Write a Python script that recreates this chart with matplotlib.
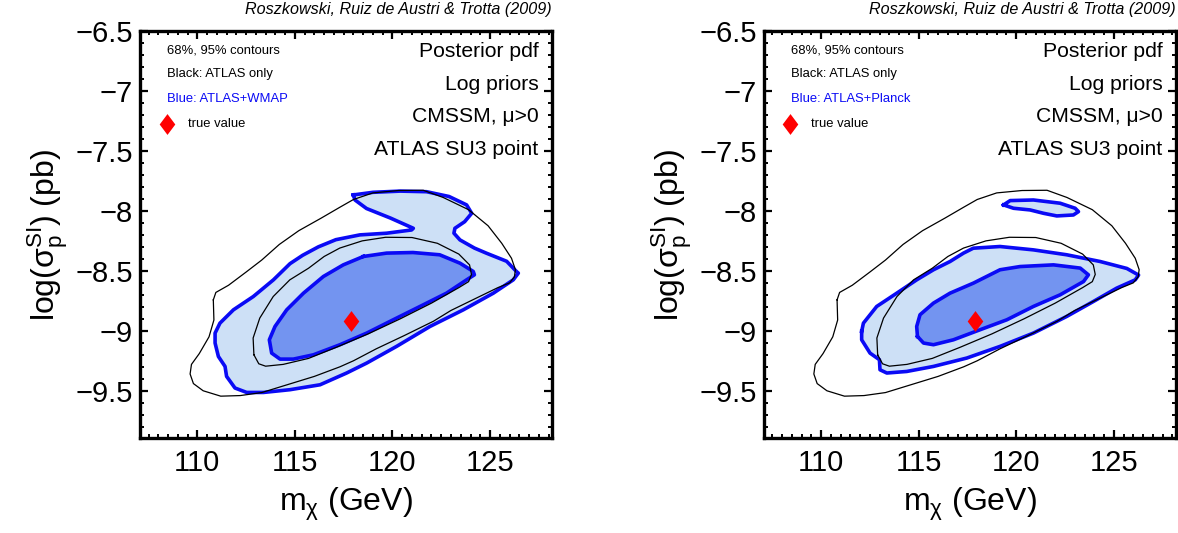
import matplotlib
matplotlib.use('Agg')
import matplotlib.pyplot as plt
from matplotlib.ticker import MultipleLocator

plt.rcParams['font.family'] = ['Liberation Sans', 'DejaVu Sans']
plt.rcParams['mathtext.fontset'] = 'custom'
plt.rcParams['mathtext.rm'] = 'Liberation Sans'
plt.rcParams['mathtext.it'] = 'Liberation Sans:italic'

# true value (ATLAS SU3 benchmark)
true_mx = 117.9
true_sigma = -8.915

# ATLAS only contours (black), same in both panels
atlas_95 = [(110.82, -8.742), (110.95, -8.68), (111.6, -8.62), (112.5, -8.51), (113.3, -8.41),
            (114.2, -8.28), (115.2, -8.165), (116.35, -8.06), (117.3, -7.97), (118.0, -7.905),
            (119.0, -7.85), (120.3, -7.83), (121.58, -7.828), (122.6, -7.888), (123.9, -7.99),
            (124.9, -8.124), (125.6, -8.27), (126.1, -8.395), (126.3, -8.49), (126.25, -8.55),
            (126.0, -8.6), (125.4, -8.64), (124.3, -8.727), (123.0, -8.83), (122.1, -8.92),
            (120.6, -9.04), (119.17, -9.15), (118.0, -9.25), (117.31, -9.3), (116.0, -9.38),
            (114.6, -9.45), (113.3, -9.515), (112.2, -9.54), (111.2, -9.545), (110.3, -9.5),
            (109.8, -9.44), (109.63, -9.36), (109.7, -9.28), (110.1, -9.19), (110.6, -9.05),
            (110.85, -8.91), (110.82, -8.742)]
atlas_68 = [(112.9, -9.2), (112.86, -9.06), (113.2, -8.894), (113.89, -8.714), (114.74, -8.575),
            (115.7, -8.478), (116.5, -8.38), (117.3, -8.31), (118.45, -8.25), (119.65, -8.22),
            (121.0, -8.222), (122.3, -8.27), (123.4, -8.36), (123.95, -8.45), (124.05, -8.53),
            (123.9, -8.59), (123.4, -8.64), (122.0, -8.769), (120.4, -8.9), (118.75, -9.026),
            (117.13, -9.137), (115.7, -9.23), (114.4, -9.28), (113.5, -9.295), (113.15, -9.275),
            (112.9, -9.2)]

# ATLAS+WMAP contours (blue, left panel)
wmap_95 = [(117.99, -7.867), (119.0, -7.845), (120.4, -7.835), (121.75, -7.84), (122.9, -7.88),
           (123.8, -7.95), (124.06, -8.02), (123.7, -8.09), (123.2, -8.145), (123.15, -8.186),
           (123.46, -8.242), (124.2, -8.31), (124.82, -8.353), (125.85, -8.42), (126.36, -8.506),
           (126.45, -8.519), (126.19, -8.575), (125.17, -8.686), (123.63, -8.825), (121.92, -8.964),
           (120.21, -9.13), (118.68, -9.269), (117.65, -9.352), (116.29, -9.45), (114.75, -9.491),
           (113.39, -9.514), (112.53, -9.514), (111.93, -9.477), (111.5, -9.38), (111.42, -9.297),
           (111.08, -9.214), (110.91, -9.102), (110.91, -9.019), (111.16, -8.936), (111.85, -8.825),
           (112.87, -8.714), (113.9, -8.575), (114.75, -8.44), (115.4, -8.37), (116.2, -8.3),
           (117.1, -8.24), (118.33, -8.2), (119.7, -8.186), (120.98, -8.159), (121.07, -8.145),
           (119.9, -8.06), (118.67, -7.98), (118.08, -7.909), (117.99, -7.867)]
wmap_68 = [(118.51, -8.38), (119.7, -8.352), (121.05, -8.347), (122.42, -8.366), (123.46, -8.436),
           (124.14, -8.505), (124.2, -8.533), (123.8, -8.575), (122.77, -8.686), (121.41, -8.797),
           (120.04, -8.908), (118.68, -9.019), (117.31, -9.116), (115.95, -9.2), (114.92, -9.236),
           (114.24, -9.236), (113.81, -9.186), (113.69, -9.075), (113.98, -8.964), (114.58, -8.825),
           (115.44, -8.686), (116.46, -8.547), (117.48, -8.45), (118.51, -8.38)]

# ATLAS+Planck contours (blue, right panel)
planck_95 = [(112.08, -9.005), (112.17, -8.936), (112.85, -8.797), (113.88, -8.686), (114.9, -8.575),
             (115.76, -8.491), (116.61, -8.422), (117.3, -8.352), (117.8, -8.311), (119.17, -8.297),
             (120.88, -8.325), (122.59, -8.366), (124.3, -8.422), (125.67, -8.48), (126.27, -8.535),
             (126.1, -8.575), (125.15, -8.644), (123.96, -8.755), (122.59, -8.88), (120.88, -9.019),
             (119.17, -9.13), (117.47, -9.227), (115.76, -9.297), (114.39, -9.339), (113.37, -9.352),
             (113.02, -9.325), (112.99, -9.241), (112.51, -9.186), (112.08, -9.075), (112.08, -9.005)]
planck_95_island = [(119.35, -7.95), (119.69, -7.914), (120.88, -7.909), (122.25, -7.936),
                    (123.02, -7.978), (123.19, -8.006), (122.93, -8.034), (122.08, -8.042),
                    (121.4, -8.02), (120.71, -7.992), (119.86, -7.978), (119.35, -7.95)]
planck_68 = [(114.94, -9.047), (114.9, -8.964), (115.07, -8.866), (115.76, -8.769), (116.61, -8.686),
             (117.81, -8.602), (119.17, -8.491), (120.2, -8.464), (121.91, -8.45), (123.28, -8.477),
             (123.7, -8.533), (123.45, -8.589), (122.25, -8.7), (120.88, -8.797), (119.52, -8.908),
             (118.15, -8.991), (116.78, -9.075), (115.76, -9.116), (115.25, -9.102), (114.94, -9.047)]

credit = 'Roszkowski, Ruiz de Austri & Trotta (2009)'
notes = ['Posterior pdf', 'Log priors', 'CMSSM, μ>0', 'ATLAS SU3 point']
note_y = [0.949, 0.868, 0.789, 0.708]

light = '#cde0f6'
dark = '#7394f0'
blue = '#0a0af5'
diamond = [(-0.75, 0), (0, 1), (0.75, 0), (0, -1)]


def xs(c):
    return [p[0] for p in c]


def ys(c):
    return [p[1] for p in c]


def panel(ax, outer, inner, label):
    for c in outer:
        ax.fill(xs(c), ys(c), color=light, lw=0, zorder=1)
    ax.fill(xs(inner), ys(inner), color=dark, lw=0, zorder=2)
    for c in outer + [inner]:
        ax.plot(xs(c), ys(c), color=blue, lw=2.6, zorder=3)
    for c in [atlas_95, atlas_68]:
        ax.plot(xs(c), ys(c), color='black', lw=0.9, zorder=4)
    ax.plot(true_mx, true_sigma, marker=diamond, ms=15, color='red', mec='none', ls='none', zorder=5)

    ax.set_xlim(107.06, 128.17)
    ax.set_ylim(-9.894, -6.5)
    ax.set_xticks([110, 115, 120, 125])
    ax.set_yticks([-9.5, -9, -8.5, -8, -7.5, -7, -6.5])
    ax.set_yticklabels(['\u22129.5', '\u22129', '\u22128.5', '\u22128', '\u22127.5', '\u22127', '\u22126.5'])
    ax.xaxis.set_minor_locator(MultipleLocator(0.5))
    ax.yaxis.set_minor_locator(MultipleLocator(0.1))
    ax.tick_params(which='both', direction='in', top=True, right=True, labelsize=21)
    ax.tick_params(which='major', length=6, width=1.6)
    ax.tick_params(which='minor', length=3, width=1.4)
    ax.tick_params(axis='x', pad=8)
    ax.tick_params(axis='y', pad=5)
    for s in ax.spines.values():
        s.set_linewidth(2.4)

    ax.set_xlabel(r'$\mathregular{m_\chi}$ (GeV)', fontsize=23, labelpad=6)
    ax.set_ylabel(r'log($\mathregular{\sigma_p^{SI}}$) (pb)', fontsize=23, labelpad=4)

    ax.text(0.066, 0.952, '68%, 95% contours', transform=ax.transAxes, fontsize=9.4, va='center')
    ax.text(0.066, 0.894, 'Black: ATLAS only', transform=ax.transAxes, fontsize=9.4, va='center')
    ax.text(0.066, 0.834, label, transform=ax.transAxes, fontsize=9.4, va='center', color=blue)
    ax.plot(0.065, 0.771, marker=diamond, ms=15, color='red', mec='none', transform=ax.transAxes, clip_on=False)
    ax.text(0.116, 0.771, 'true value', transform=ax.transAxes, fontsize=9.4, va='center')

    for t, y in zip(notes, note_y):
        ax.text(0.968, y, t, transform=ax.transAxes, fontsize=15.2, ha='right', va='center')

    ax.annotate(credit, xy=(1, 1), xycoords='axes fraction', xytext=(0, 12),
                textcoords='offset points', ha='right', va='baseline', fontsize=11.6, style='italic')


fig = plt.figure(figsize=(11.78, 5.33), dpi=100)
ax1 = fig.add_axes([0.1188, 0.1782, 0.3497, 0.7636])
ax2 = fig.add_axes([0.6483, 0.1782, 0.3497, 0.7636])

panel(ax1, [wmap_95], wmap_68, 'Blue: ATLAS+WMAP')
panel(ax2, [planck_95, planck_95_island], planck_68, 'Blue: ATLAS+Planck')

plt.savefig('out.png', dpi=100)
